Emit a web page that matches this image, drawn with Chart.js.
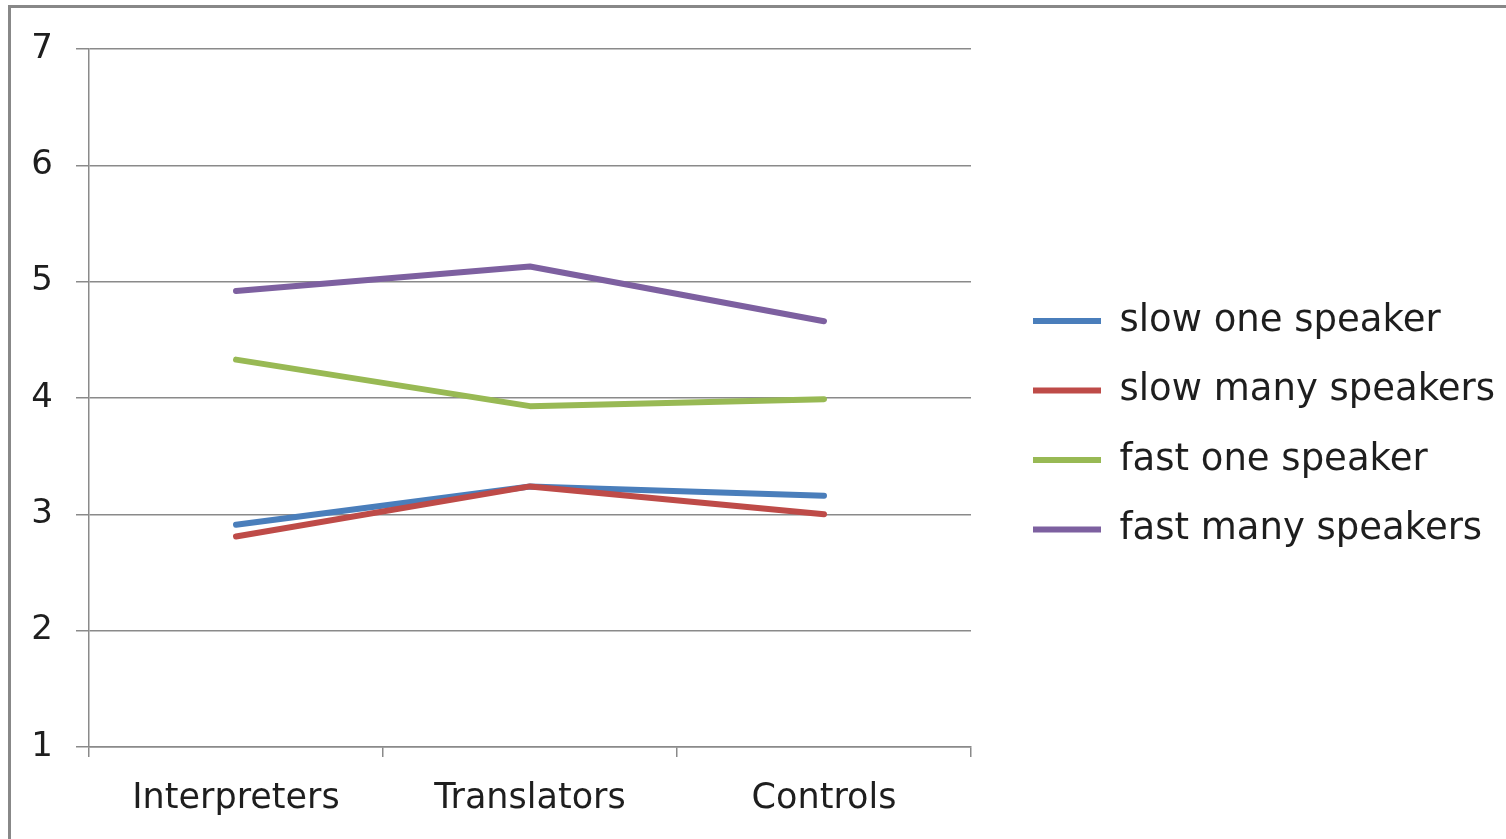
<!DOCTYPE html>
<html>
<head>
<meta charset="utf-8">
<script src="https://cdn.jsdelivr.net/npm/chart.js@4.4.1/dist/chart.umd.min.js"></script>
<style>
  html, body { margin: 0; padding: 0; background: #fff; overflow: hidden; }
  #frame {
    position: absolute; left: 8px; top: 5px; width: 1600px; height: 900px;
    border-top: 3px solid #888; border-left: 3px solid #888; box-sizing: border-box;
  }
  #wrap { position: absolute; left: 0; top: 0; width: 1506px; height: 839px; }
</style>
</head>
<body>
<div id="frame"></div>
<div id="wrap"><canvas id="chart"></canvas></div>
<script>
// Groups on the x axis
const categories = ['Interpreters', 'Translators', 'Controls'];

// Mean ratings per group for each listening condition
const slowOneSpeaker   = [2.91, 3.24, 3.16];
const slowManySpeakers = [2.81, 3.24, 3.00];
const fastOneSpeaker   = [4.33, 3.93, 3.99];
const fastManySpeakers = [4.92, 5.13, 4.66];

// Rating scale
const yTicks = [1, 2, 3, 4, 5, 6, 7];

const FONT = 'DejaVu Sans';
const GRID = '#8a8a8a';
const TEXT = '#1e1e1e';

function series(label, data, color, order) {
  return {
    label, data, order,
    borderColor: color, backgroundColor: color,
    borderWidth: 6, pointRadius: 0, pointHoverRadius: 0,
    tension: 0, borderCapStyle: 'round', borderJoinStyle: 'round', fill: false
  };
}

// Let the legend box run to the right edge so long labels are not clipped
const wideLegend = {
  id: 'wideLegend',
  afterLayout(chart) {
    const lg = chart.legend;
    if (lg) {
      lg.right = chart.width;
      lg.width = lg.right - lg.left;
    }
  }
};

new Chart(document.getElementById('chart'), {
  type: 'line',
  data: {
    labels: categories,
    datasets: [
      series('slow one speaker', slowOneSpeaker, '#4a7ebb', 4),
      series('slow many speakers', slowManySpeakers, '#be4b48', 3),
      series('fast one speaker', fastOneSpeaker, '#98b954', 2),
      series('fast many speakers', fastManySpeakers, '#7d60a0', 1)
    ]
  },
  plugins: [wideLegend],
  options: {
    responsive: true,
    maintainAspectRatio: false,
    animation: false,
    events: [],
    layout: { padding: { left: 31, top: 49, right: 311.6, bottom: 0 } },
    plugins: {
      tooltip: { enabled: false },
      legend: {
        position: 'right',
        align: 'center',
        fullSize: false,
        title: { display: true, text: '', padding: 0, font: { size: 10, lineHeight: '54.5px' } },
        labels: {
          usePointStyle: true,
          pointStyle: 'line',
          pointStyleWidth: 68,
          padding: 32.5,
          color: TEXT,
          font: { family: FONT, size: 37 },
          sort: (a, b) => a.datasetIndex - b.datasetIndex
        }
      }
    },
    scales: {
      x: {
        type: 'category',
        offset: true,
        afterFit: (s) => { s.height = 92; },
        grid: {
          offset: true, drawOnChartArea: false, drawTicks: true,
          tickLength: 10, color: GRID, lineWidth: 1.5
        },
        border: { display: true, color: GRID, width: 1.5 },
        ticks: {
          color: TEXT, padding: 34.5, maxRotation: 0,
          font: { family: FONT, size: 35, lineHeight: '15px' }
        }
      },
      y: {
        min: 1, max: 7,
        afterFit: (s) => { s.width = 58; },
        afterBuildTicks: (s) => { s.ticks = yTicks.map(v => ({ value: v })); },
        grid: { color: GRID, lineWidth: 1.5, tickLength: 13 },
        border: { display: true, color: GRID, width: 1.5 },
        ticks: {
          color: TEXT, padding: 23,
          font: { family: FONT, size: 34 }
        }
      },
      legendGap: {
        type: 'linear',
        position: 'right',
        display: true,
        grid: { display: false, drawTicks: false },
        border: { display: false },
        ticks: { display: false },
        afterFit: (s) => { s.width = 29.5; }
      }
    }
  }
});
</script>
</body>
</html>
